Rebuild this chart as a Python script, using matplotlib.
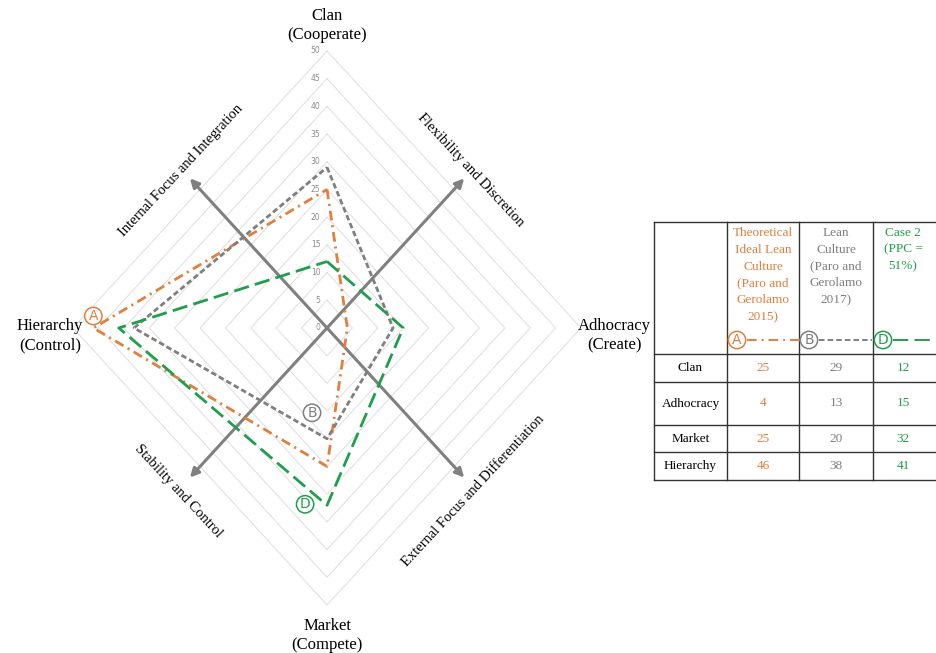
import numpy as np
import matplotlib.pyplot as plt

plt.rcParams['font.family'] = ['Liberation Serif', 'DejaVu Serif']
plt.rcParams['lines.scale_dashes'] = False

# data
dims = ['Clan', 'Adhocracy', 'Market', 'Hierarchy']
axis_labels = ['Clan\n(Cooperate)', 'Adhocracy\n(Create)', 'Market\n(Compete)', 'Hierarchy\n(Control)']
ideal = [25, 4, 25, 46]
lean = [29, 13, 20, 38]
case2 = [12, 15, 32, 41]
ticks = [0, 5, 10, 15, 20, 25, 30, 35, 40, 45, 50]

orange = '#e27f3e'
gray = '#7f7f7f'
green = '#1f9f4b'

ang = np.radians([0, 90, 180, 270])

def xy(vals):
    v = np.array(vals + vals[:1], dtype=float)
    a = np.append(ang, ang[0])
    return v * np.sin(a), v * np.cos(a)

fig = plt.figure(figsize=(9.36, 6.53), dpi=100)
ax = fig.add_axes([0.0509, 0.0311, 0.597, 0.9333])
ax.set_xlim(-55, 55)
ax.set_ylim(-55, 55)
ax.axis('off')

# diamond grid
for t in ticks[1:]:
    gx, gy = xy([t] * 4)
    ax.plot(gx, gy, color='#dedede', lw=0.7, zorder=1)
for t in ticks:
    ax.text(-1.3, t, str(t), fontsize=5.5, color='#8c8c8c', ha='right', va='center',
            family='DejaVu Sans')

# arrows
for s in [1, -1]:
    ax.annotate('', xy=(-27 * s, 27), xytext=(27 * s, -27),
                arrowprops=dict(arrowstyle='<|-|>', color='#808080', lw=2.2,
                                mutation_scale=13, shrinkA=0, shrinkB=0), zorder=2)

# series
series = [(ideal, orange, (7, 3.5, 1.5, 3.5)),
          (lean, gray, (4, 2.2)),
          (case2, green, (11, 4.5))]
for vals, c, d in series:
    sx, sy = xy(vals)
    ax.plot(sx, sy, color=c, lw=2, dashes=d, zorder=3)

# circled letters
circ = dict(boxstyle='circle,pad=0.12', fc='white', lw=1.1)
ax.annotate('A', xy=(-ideal[3], 0), xytext=(0, 8.6), textcoords='offset points',
            ha='center', va='center', fontsize=10, color=orange, family='DejaVu Sans',
            bbox=dict(circ, ec=orange), zorder=4)
ax.annotate('B', xy=(0, -lean[2]), xytext=(-10.8, 18.7), textcoords='offset points',
            ha='center', va='center', fontsize=10, color=gray, family='DejaVu Sans',
            bbox=dict(circ, ec=gray), zorder=4)
ax.annotate('D', xy=(0, -case2[2]), xytext=(-15.8, 0.7), textcoords='offset points',
            ha='center', va='center', fontsize=10, color=green, family='DejaVu Sans',
            bbox=dict(circ, ec=green), zorder=4)

# axis labels
lab = dict(fontsize=12, linespacing=1.3)
ax.text(0, 54.6, axis_labels[0], ha='center', va='center', **lab)
ax.text(0, -52.3, axis_labels[2], ha='center', va='top', **lab)
ax.text(-54.5, -1.4, axis_labels[3], ha='center', va='center', **lab)
ax.text(56.5, -1.4, axis_labels[1], ha='center', va='center', **lab)

ax.text(-28.8, 28.5, 'Internal Focus and Integration', rotation=47, ha='center', va='center', fontsize=10.5)
ax.text(28.3, 28.5, 'Flexibility and Discretion', rotation=-47, ha='center', va='center', fontsize=10.5)
ax.text(-29.2, -29.4, 'Stability and Control', rotation=-47, ha='center', va='center', fontsize=10.5)
ax.text(28.7, -29.4, 'External Focus and Differentiation', rotation=47, ha='center', va='center', fontsize=10.5)

# table (pixel coordinates)
tb = fig.add_axes([0, 0, 1, 1])
tb.set_xlim(0, 936)
tb.set_ylim(653, 0)
tb.axis('off')
tb.patch.set_alpha(0)

col_x = [654, 727, 799, 873, 940]
row_y = [222, 354, 382, 425, 452, 480]
for x in col_x[:-1]:
    tb.plot([x, x], [row_y[0], row_y[-1]], color='#333333', lw=1)
for y in row_y:
    tb.plot([col_x[0], 936], [y, y], color='#333333', lw=1)

headers = ['Theoretical\nIdeal Lean\nCulture\n(Paro and\nGerolamo\n2015)',
           'Lean\nCulture\n(Paro and\nGerolamo\n2017)',
           'Case 2\n(PPC =\n51%)']
cols = [orange, gray, green]
letters = ['A', 'B', 'D']
dash_list = [(7, 3.5, 1.5, 3.5), (4, 2.2), (11, 4.5)]
for i in range(3):
    cx = (col_x[i + 1] + col_x[i + 2]) / 2
    if i == 2:
        cx = 903
    tb.text(cx, 227, headers[i], ha='center', va='top', fontsize=9.5, color=cols[i],
            linespacing=1.53)
    lx = col_x[i + 1] + 10
    tb.plot([lx + 10, col_x[i + 1] + 73], [340, 340], color=cols[i], lw=1.4,
            dashes=dash_list[i], zorder=2)
    tb.text(lx, 340, letters[i], ha='center', va='center', fontsize=10, color=cols[i],
            family='DejaVu Sans', bbox=dict(circ, ec=cols[i]), zorder=3)

for r, name in enumerate(dims):
    cy = (row_y[r + 1] + row_y[r + 2]) / 2
    tb.text((col_x[0] + col_x[1]) / 2, cy, name, ha='center', va='center', fontsize=9.5)
    for i, vals in enumerate([ideal, lean, case2]):
        cx = (col_x[i + 1] + col_x[i + 2]) / 2
        if i == 2:
            cx = 903
        tb.text(cx, cy, str(vals[r]), ha='center', va='center', fontsize=9.5, color=cols[i])

fig.savefig('out.png', dpi=100)
